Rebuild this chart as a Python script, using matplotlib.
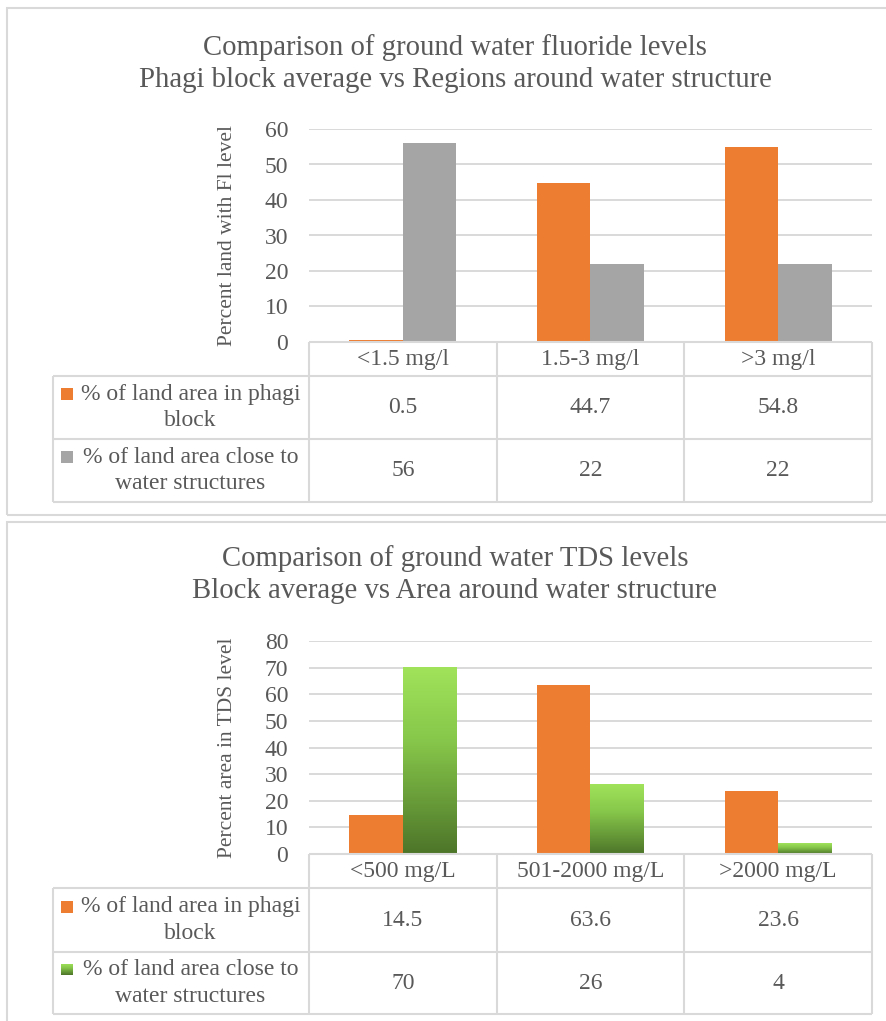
import numpy as np
import matplotlib
matplotlib.use("Agg")
import matplotlib.pyplot as plt
from matplotlib.patches import Rectangle
from matplotlib.lines import Line2D
from matplotlib.colors import LinearSegmentedColormap

plt.rcParams['font.family'] = ['Liberation Serif', 'DejaVu Serif']

W, H = 887, 1021

# ---------------- data ----------------
fl_categories = ['<1.5 mg/l', '1.5-3 mg/l', '>3 mg/l']
fl_block = [0.5, 44.7, 54.8]
fl_near = [56, 22, 22]
fl_yticks = [0, 10, 20, 30, 40, 50, 60]

tds_categories = ['<500 mg/L', '501-2000 mg/L', '>2000 mg/L']
tds_block = [14.5, 63.6, 23.6]
tds_near = [70, 26, 4]
tds_yticks = [0, 10, 20, 30, 40, 50, 60, 70, 80]

series_names = ['% of land area in phagi\nblock',
                '% of land area close to\nwater structures']
fl_title = ('Comparison of ground water fluoride levels\n'
            'Phagi block average vs Regions around water structure')
tds_title = ('Comparison of ground water TDS levels\n'
             'Block average vs Area around water structure')
fl_ylabel = 'Percent land with Fl level'
tds_ylabel = 'Percent area in TDS level'

# ---------------- styles ----------------
ORANGE = '#ED7D31'
GRAY = '#A5A5A5'
GRID = '#D9D9D9'
TEXT = '#595959'
green_cmap = LinearSegmentedColormap.from_list(
    'grn', [(0, '#4D7529'), (0.6, '#86C64A'), (1, '#A1E35A')])

fig = plt.figure(figsize=(W / 100, H / 100), dpi=100)


def fx(x):
    return x / W


def fy(y):
    return 1 - y / H


def fline(x0, y0, x1, y1, lw=1.5):
    fig.add_artist(Line2D([fx(x0), fx(x1)], [fy(y0), fy(y1)],
                          transform=fig.transFigure, color=GRID, lw=lw,
                          solid_capstyle='butt'))


AX_L, AX_R = 309, 872
TAB_L = 53


def draw_panel(box_top, box_bot, title, title_y, ax_top, ax_bot, hdr_bot,
               row1_bot, row2_bot, categories, s1, s2, yticks, ylabel,
               green=False):
    # panel border
    fig.add_artist(Rectangle((fx(7), fy(box_bot)), fx(900) - fx(7),
                             fy(box_top) - fy(box_bot),
                             transform=fig.transFigure, fill=False,
                             edgecolor=GRID, lw=1.5))
    fig.text(fx(455), fy(title_y), title, ha='center', va='center',
             fontsize=20.7, color=TEXT, linespacing=1.33)

    ax = fig.add_axes([fx(AX_L), fy(ax_bot), fx(AX_R) - fx(AX_L),
                       fy(ax_top) - fy(ax_bot)])
    n = len(categories)
    x = np.arange(n)
    w = 1 / 3.5
    ax.bar(x - w / 2, s1, w, color=ORANGE, zorder=3)
    if green:
        bars = ax.bar(x + w / 2, s2, w, color='none', zorder=3)
        grad = np.linspace(0, 1, 256).reshape(-1, 1)
        for b in bars:
            ax.imshow(grad, extent=[b.get_x(), b.get_x() + b.get_width(), 0,
                                    b.get_height()],
                      origin='lower', cmap=green_cmap, aspect='auto', zorder=3)
    else:
        ax.bar(x + w / 2, s2, w, color=GRAY, zorder=3)
    ax.set_xlim(-0.5, n - 0.5)
    ax.set_ylim(yticks[0], yticks[-1])
    ax.set_yticks(yticks)
    ax.set_xticks([])
    ax.yaxis.grid(True, color=GRID, lw=1.4)
    ax.set_axisbelow(True)
    for s in ax.spines.values():
        s.set_visible(False)
    ax.tick_params(axis='y', length=0, pad=15, labelsize=17, labelcolor=TEXT)
    ax.set_ylabel(ylabel, fontsize=15.5, color=TEXT)
    ax.yaxis.set_label_coords(-0.128, 0.5)

    # table
    bounds = [AX_L + (b + 0.5) / n * (AX_R - AX_L)
              for b in np.arange(-0.5, n, 1.0)]
    fline(AX_L, ax_bot, AX_R, ax_bot)
    for yy in (hdr_bot, row1_bot, row2_bot):
        fline(TAB_L, yy, AX_R, yy)
    fline(TAB_L, hdr_bot, TAB_L, row2_bot)
    for bx in bounds:
        fline(bx, ax_bot, bx, row2_bot)
    hc = (ax_bot + hdr_bot) / 2
    r1c = (hdr_bot + row1_bot) / 2
    r2c = (row1_bot + row2_bot) / 2
    for i, cat in enumerate(categories):
        cx = (bounds[i] + bounds[i + 1]) / 2
        fig.text(fx(cx), fy(hc), cat, ha='center', va='center',
                 fontsize=17, color=TEXT)
        fig.text(fx(cx), fy(r1c), f'{s1[i]:g}', ha='center', va='center',
                 fontsize=17, color=TEXT)
        fig.text(fx(cx), fy(r2c), f'{s2[i]:g}', ha='center', va='center',
                 fontsize=17, color=TEXT)
    for rc, name, idx in ((r1c, series_names[0], 0), (r2c, series_names[1], 1)):
        fig.text(fx(190.5), fy(rc), name, ha='center', va='center',
                 multialignment='center', fontsize=17, color=TEXT,
                 linespacing=1.35)
        sq_y = rc - 13.5
        if idx == 0:
            fig.add_artist(Rectangle((fx(61), fy(sq_y + 6)), 12 / W, 12 / H,
                                     transform=fig.transFigure,
                                     color=ORANGE, lw=0))
        elif green:
            lax = fig.add_axes([fx(61), fy(sq_y + 6), 12 / W, 12 / H])
            lax.imshow(np.linspace(0, 1, 64).reshape(-1, 1), origin='lower',
                       cmap=green_cmap, aspect='auto')
            lax.axis('off')
        else:
            fig.add_artist(Rectangle((fx(61), fy(sq_y + 6)), 12 / W, 12 / H,
                                     transform=fig.transFigure,
                                     color=GRAY, lw=0))
    return ax


draw_panel(8, 515, fl_title, 63.5, 129, 342, 376, 439, 502,
           fl_categories, fl_block, fl_near, fl_yticks, fl_ylabel)
draw_panel(522, 1040, tds_title, 574.5, 641, 854, 888, 952, 1014,
           tds_categories, tds_block, tds_near, tds_yticks, tds_ylabel,
           green=True)

fig.savefig('out.png', dpi=100)
